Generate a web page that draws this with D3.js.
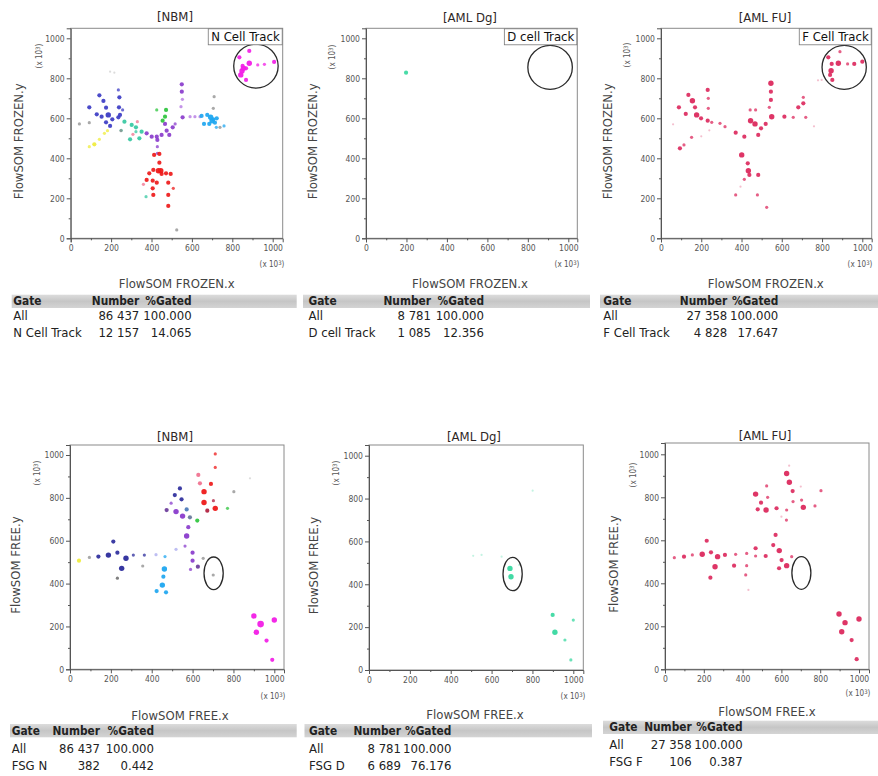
<!DOCTYPE html>
<html><head><meta charset="utf-8">
<script src="https://cdn.jsdelivr.net/npm/d3@7/dist/d3.min.js"></script>
<style>
html,body{margin:0;padding:0;background:#fff;}
svg{display:block;}
text{font-family:"DejaVu Sans Condensed","DejaVu Sans",sans-serif;}
</style></head>
<body>
<svg id="c" width="878" height="776"></svg>
<script>
// ---------------- DATA ----------------
const majorTicks = [0, 200, 400, 600, 800, 1000];
const minorTicks = [100, 300, 500, 700, 900];
const panelTitles = ["[NBM]", "[AML Dg]", "[AML FU]", "[NBM]", "[AML Dg]", "[AML FU]"];
const xAxisLabels = ["FlowSOM FROZEN.x", "FlowSOM FROZEN.x", "FlowSOM FROZEN.x", "FlowSOM FREE.x", "FlowSOM FREE.x", "FlowSOM FREE.x"];
const yAxisLabels = ["FlowSOM FROZEN.y", "FlowSOM FROZEN.y", "FlowSOM FROZEN.y", "FlowSOM FREE.y", "FlowSOM FREE.y", "FlowSOM FREE.y"];
const gateLabels = ["N Cell Track", "D cell Track", "F Cell Track", null, null, null];
// gate shapes: [centerX, centerY, radiusX, radiusY] in data units
const gateShapes = [[917, 861, 110, 110], [910, 855, 110, 110], [910, 855, 110, 110],
                    [703, 448, 47, 76], [703, 448, 47, 78], [703, 448, 49, 76]];
const tableHeader = ["Gate", "Number", "%Gated"];
const stats = [
  [["All", "86 437", "100.000"], ["N Cell Track", "12 157", "14.065"]],
  [["All", "8 781", "100.000"], ["D cell Track", "1 085", "12.356"]],
  [["All", "27 358", "100.000"], ["F Cell Track", "4 828", "17.647"]],
  [["All", "86 437", "100.000"], ["FSG N", "382", "0.442"]],
  [["All", "8 781", "100.000"], ["FSG D", "6 689", "76.176"]],
  [["All", "27 358", "100.000"], ["FSG F", "106", "0.387"]]
];
// points: [x, y, population, abundance level 0-4]
const nbmFrozen = [
  [835,905,"mag",2],[884,937,"mag",2],[884,875,"mag",3],[851,862,"mag",2],[848,837,"mag",3],[842,817,"mag",3],
  [868,792,"mag",2],[926,867,"mag",1],[959,870,"mag",1],[1007,882,"mag",2],[868,850,"mag",2],[855,850,"mag",3],
  [92,655,"blue",2],[142,715,"blue",2],[162,687,"blue",2],[175,653,"blue",2],[129,620,"blue",2],[153,608,"blue",2],
  [186,617,"blue",3],[175,580,"blue",2],[206,595,"blue",2],[195,562,"blue",2],[236,605,"blue",2],[239,655,"blue",2],
  [244,617,"blue",2],[236,742,"blue",1],[241,705,"blue",2],[257,642,"blue",1],
  [266,583,"teal",2],[302,567,"teal",2],[323,555,"teal",2],[294,495,"teal",2],[323,533,"teal",1],[340,500,"teal",2],
  [351,533,"teal",2],[373,208,"teal",1],[250,540,"teal",1],
  [92,458,"yellow",1],[117,470,"yellow",2],[142,495,"yellow",1],[167,525,"yellow",1],[182,538,"yellow",1],
  [43,572,"gray",1],[92,578,"gray",1],[195,833,"gray",0],[216,828,"gray",0],[249,538,"gray",1],[525,42,"gray",1],
  [706,650,"gray",1],[710,708,"gray",1],[739,555,"gray",1],
  [467,572,"purple",2],[475,538,"purple",2],[450,517,"purple",2],[488,517,"purple",2],[426,508,"purple",2],
  [401,508,"purple",2],[376,525,"purple",2],[429,492,"purple",2],[429,458,"purple",1],[429,425,"purple",1],
  [505,555,"purple",2],[517,572,"purple",1],
  [550,770,"purple",2],[550,733,"purple",2],[553,695,"violet",1],[546,658,"violet",1],[554,605,"purple",2],
  [591,608,"violet",1],[615,608,"violet",1],[640,608,"violet",1],
  [330,583,"pink",1],[308,520,"pink",1],[360,270,"pink",1],
  [426,642,"green",1],[472,642,"green",2],[467,608,"green",2],[455,588,"green",2],
  [648,612,"sky",2],[676,617,"sky",2],[693,605,"sky",3],[706,595,"sky",2],[714,578,"sky",2],[686,572,"sky",2],
  [723,600,"sky",2],[660,572,"sky",2],[721,555,"sky",1],[759,562,"sky",1],[700,588,"sky",3],
  [413,417,"red",2],[439,422,"red",2],[439,378,"red",2],[409,342,"red",2],[389,325,"red",2],[376,292,"red",2],
  [406,288,"red",2],[426,278,"red",2],[450,322,"red",2],[434,338,"red",3],[472,325,"red",2],[495,322,"red",2],
  [483,278,"red",2],[508,250,"red",1],[406,250,"red",2],[409,217,"red",2],[483,217,"red",2],[483,162,"red",2],
  [446,338,"red",3]
];
const amlDgFrozen = [
  [198,828,"aqua",2]
];
const amlFuFrozen = [
  [831,905,"crim",2],[889,933,"crim",1],[848,872,"crim",2],[881,875,"crim",3],[845,838,"crim",3],[840,817,"crim",2],
  [851,792,"crim",2],[927,872,"crim",1],[960,872,"crim",2],[1000,883,"crim",2],[798,792,"crim",0],
  [89,655,"crim",2],[136,717,"crim",2],[156,688,"crim",3],[169,655,"crim",2],[123,622,"crim",2],[177,617,"crim",3],
  [199,600,"crim",2],[232,588,"crim",2],[235,650,"crim",1],[232,742,"crim",2],[235,700,"crim",1],[252,580,"crim",1],
  [293,575,"crim",1],[318,558,"crim",1],[371,528,"crim",2],[414,508,"crim",2],[445,588,"crim",3],[467,572,"crim",3],
  [443,642,"crim",1],[470,642,"crim",1],[483,517,"crim",2],[497,550,"crim",2],[520,572,"crim",2],[546,775,"crim",3],
  [546,733,"crim",2],[546,692,"crim",2],[538,655,"crim",1],[550,608,"crim",3],[613,608,"crim",2],[657,605,"crim",1],
  [682,655,"crim",2],[707,675,"crim",2],[707,705,"crim",1],[719,605,"crim",1],
  [401,417,"crim",3],[431,375,"crim",2],[434,338,"crim",3],[414,295,"crim",1],[439,317,"crim",2],[483,317,"crim",2],
  [371,217,"crim",1],[479,217,"crim",1],[525,155,"crim",1],[94,450,"crim",2],[114,467,"crim",1],[152,505,"crim",1],
  [60,570,"crim",0],[240,540,"crim",0],[760,560,"crim",0],[780,790,"crim",0],[200,510,"crim",0],[395,258,"crim",0]
];
const nbmFree = [
  [44,507,"yellow",2],
  [95,522,"gray",1],[232,425,"dgray",1],[356,482,"gray",1],[652,518,"gray",1],[802,829,"gray",1],[881,891,"gray",0],
  [701,440,"gray",1],
  [139,526,"navy",2],[188,533,"navy",3],[232,544,"navy",2],[212,596,"navy",2],[274,518,"navy",3],[253,471,"navy",3],
  [310,533,"navy",1],[364,533,"navy",1],
  [421,535,"lav",1],[519,560,"lav",1],
  [465,526,"sky",1],[462,468,"sky",3],[457,432,"sky",2],[452,393,"sky",3],[424,365,"sky",2],[470,359,"sky",2],
  [563,575,"purple",1],[600,544,"purple",2],[600,507,"purple",2],[590,466,"purple",1],[626,479,"dpurple",2],
  [571,622,"purple",3],[579,663,"purple",2],[551,715,"purple",3],[519,736,"purple",3],[473,743,"dpurple",2],
  [513,813,"navy",2],[538,844,"navy",2],[546,793,"navy",2],[495,775,"purple",1],[587,709,"slate",2],[571,746,"steel",2],
  [628,907,"pink",2],[636,868,"pink",2],[656,829,"red",3],[690,865,"red",2],[656,778,"red",3],[672,740,"dred",2],
  [702,787,"dred",1],[711,942,"red",1],[711,1005,"red",1],[711,751,"red",3],
  [623,694,"green",2],[771,751,"green",1],
  [900,249,"mag",3],[933,211,"mag",4],[912,173,"mag",3],[1000,230,"mag",3],[962,134,"mag",2],[990,44,"mag",2]
];
const amlDgFree = [
  [690,474,"aqua",3],[695,435,"aqua",3],[510,533,"aqua",0],[551,537,"aqua",0],[649,529,"aqua",0],[801,837,"aqua",0],
  [899,257,"aqua",2],[910,176,"aqua",3],[959,140,"aqua",1],[1000,233,"aqua",1],[988,47,"aqua",1],[735,490,"aqua",0]
];
const amlFuFree = [
  [48,519,"crim",1],[98,524,"crim",2],[141,532,"crim",1],[192,535,"crim",3],[237,544,"crim",2],[215,598,"crim",2],
  [234,426,"crim",2],[258,477,"crim",3],[271,524,"crim",3],[309,532,"crim",2],[356,482,"crim",2],[364,535,"crim",1],
  [421,539,"crim",1],[421,482,"crim",1],[416,439,"crim",1],[430,369,"crim",0],[467,527,"crim",1],[467,563,"crim",2],
  [519,527,"crim",2],[558,578,"crim",2],[570,625,"crim",2],[589,552,"crim",3],[601,508,"crim",2],[588,470,"crim",2],
  [627,482,"crim",3],[653,524,"crim",1],[627,911,"crim",3],[641,870,"crim",3],[658,829,"crim",2],[660,780,"crim",1],
  [627,741,"crim",1],[626,694,"crim",1],[704,787,"crim",1],[713,753,"crim",3],[773,760,"crim",1],[804,831,"crim",1],
  [575,749,"crim",2],[521,741,"crim",3],[478,744,"crim",2],[495,775,"crim",2],[529,800,"crim",1],[467,815,"crim",3],
  [524,853,"crim",1],[897,257,"crim",3],[928,217,"crim",3],[911,175,"crim",3],[1000,234,"crim",3],[962,136,"crim",2],
  [988,47,"crim",2],[600,710,"crim",0],[700,850,"crim",0],[640,947,"crim",0]
];
const panelData = [nbmFrozen, amlDgFrozen, amlFuFrozen, nbmFree, amlDgFree, amlFuFree];

// ---------------- STYLE / LAYOUT ----------------
const colors = {
  mag:"#f21ee6", blue:"#3c3cc4", navy:"#2c2c9c", teal:"#36c8a2", yellow:"#efec3a", gray:"#8c8c8c", dgray:"#555",
  purple:"#8a3ccc", violet:"#b070e0", dpurple:"#6a3a9a", pink:"#f0708e", green:"#2cc43c", sky:"#1ea6f0",
  red:"#ee1a1a", dred:"#b01c3c", lav:"#a8a8ee", slate:"#667799", steel:"#4a78b8", aqua:"#38d8a0", crim:"#dc2a5e"
};
const radius = [1.1, 1.6, 2.1, 2.7, 3.3];
const alpha = [0.3, 0.75, 0.92, 0.95, 0.95];

// pixel geometry: x of data 0, x of data 1000, right edge, y of 0, y of 1000, top edge
const geo = [
  {x0:70.7, x1:272.7, xr:282.7, y0:238.3, y1:38.3, yt:28.3, tx:175, ty:21, ylx:18, ylu:[39,56], xlu:[272,264]},
  {x0:366, x1:568.3, xr:577.3, y0:238.3, y1:38.3, yt:28.3, tx:470, ty:21.5, ylx:312, ylu:[332,57], xlu:[567,264]},
  {x0:661, x1:862.3, xr:871.7, y0:238.3, y1:38.3, yt:28.3, tx:765, ty:21.5, ylx:607, ylu:[627,55], xlu:[860,264]},
  {x0:70, x1:274.3, xr:284, y0:669.3, y1:455, yt:445, tx:175, ty:440.5, ylx:15, ylu:[37,473], xlu:[273,696]},
  {x0:369, x1:573.3, xr:583.3, y0:670, y1:455.7, yt:445, tx:474, ty:440.5, ylx:313, ylu:[336,473], xlu:[573,696]},
  {x0:665, x1:859, xr:869, y0:669.3, y1:454.3, yt:443, tx:765, ty:439.5, ylx:613, ylu:[633,475], xlu:[858,693]}
];
const tgeo = [
  {lx:176.7, ly:283.7, bx0:11.7, bx1:296.7, by0:294.7, by1:308, gx:13.3, c1:139.3, c2:191.7, rows:[301.3,315.8,332.3]},
  {lx:470, ly:283.7, bx0:303, bx1:590, by0:294.7, by1:308, gx:308.5, c1:431, c2:484, rows:[301.3,315.8,332.3]},
  {lx:765.8, ly:283.7, bx0:600, bx1:878, by0:294.7, by1:308, gx:603.3, c1:727.3, c2:778.3, rows:[301.3,315.8,332.3]},
  {lx:180, ly:715, bx0:10, bx1:296.7, by0:724, by1:737.3, gx:11.7, c1:100, c2:154, rows:[730.7,748.3,765]},
  {lx:475, ly:714, bx0:304.5, bx1:592, by0:724, by1:737.3, gx:309, c1:401, c2:451.4, rows:[730.7,748.3,765]},
  {lx:767, ly:711.7, bx0:603, bx1:878, by0:720.7, by1:734, gx:609.3, c1:691.7, c2:742.7, rows:[727.3,744,761]}
];

const svg = d3.select("#c");
const defs = svg.append("defs");
const grad = defs.append("linearGradient").attr("id","bar").attr("x1",0).attr("x2",0).attr("y1",0).attr("y2",1);
grad.append("stop").attr("offset","0%").attr("stop-color","#dcdcdc");
grad.append("stop").attr("offset","50%").attr("stop-color","#c6c6c6");
grad.append("stop").attr("offset","100%").attr("stop-color","#d4d4d4");

panelData.forEach((data, i) => {
  const g = geo[i];
  const xs0 = d3.scaleLinear().domain([0,1000]).range([g.x0, g.x1]);
  const ys0 = d3.scaleLinear().domain([0,1000]).range([g.y0, g.y1]);
  const x = d3.scaleLinear().domain([0, xs0.invert(g.xr)]).range([g.x0, g.xr]);
  const y = d3.scaleLinear().domain([0, ys0.invert(g.yt)]).range([g.y0, g.yt]);
  const p = svg.append("g");

  // frame
  p.append("rect").attr("x", g.x0).attr("y", g.yt).attr("width", g.xr - g.x0).attr("height", g.y0 - g.yt)
    .attr("fill", "#fff").attr("stroke", "#8a8a8a").attr("stroke-width", 1);

  // points
  p.append("g").selectAll("circle").data(data).join("circle")
    .attr("cx", d => x(d[0])).attr("cy", d => y(d[1]))
    .attr("r", d => radius[d[3]])
    .attr("fill", d => colors[d[2]])
    .attr("fill-opacity", d => alpha[d[3]]);

  // gate shape
  const gs = gateShapes[i];
  p.append("ellipse").attr("cx", x(gs[0])).attr("cy", y(gs[1]))
    .attr("rx", Math.abs(x(gs[0] + gs[2]) - x(gs[0]))).attr("ry", Math.abs(y(gs[1]) - y(gs[1] + gs[3])))
    .attr("fill", "none").attr("stroke", "#2a2a2a").attr("stroke-width", 1.3);

  // gate label box
  if (gateLabels[i]) {
    const t = p.append("text").attr("x", g.xr - 3).attr("y", g.yt + 13)
      .attr("text-anchor", "end").attr("font-size", 13).attr("fill", "#111").text(gateLabels[i]);
    const bb = t.node().getBBox();
    p.insert("rect", "text").attr("x", bb.x - 3).attr("y", g.yt + 0.5).attr("width", g.xr - bb.x + 2.5)
      .attr("height", 16).attr("fill", "#fff").attr("stroke", "#777").attr("stroke-width", 0.8);
  }

  // axes
  p.append("g").attr("transform", `translate(0,${g.y0})`)
    .call(d3.axisBottom(x).tickValues(majorTicks).tickSize(4).tickPadding(3).tickFormat(d3.format("d")));
  p.append("g").attr("transform", `translate(0,${g.y0})`)
    .call(d3.axisBottom(x).tickValues(minorTicks).tickSize(2).tickFormat(""))
    .call(s => s.select(".domain").remove());
  p.append("g").attr("transform", `translate(${g.x0},0)`)
    .call(d3.axisLeft(y).tickValues(majorTicks).tickSize(4).tickPadding(2).tickFormat(d3.format("d")));
  p.append("g").attr("transform", `translate(${g.x0},0)`)
    .call(d3.axisLeft(y).tickValues(minorTicks).tickSize(2).tickFormat(""))
    .call(s => s.select(".domain").remove());
  p.selectAll(".domain").attr("stroke", "#555");
  p.selectAll(".tick line").attr("stroke", "#555");
  p.selectAll(".tick text").attr("font-size", 8.5).attr("fill", "#555")
    .attr("font-family", '"DejaVu Sans Condensed","DejaVu Sans",sans-serif');

  // title
  p.append("text").attr("x", g.tx).attr("y", g.ty).attr("text-anchor", "middle")
    .attr("font-size", 13).attr("fill", "#2e2626").text(panelTitles[i]);

  // y label
  p.append("text").attr("transform", `translate(${g.ylx},${(g.y0 + g.yt) / 2 + 8}) rotate(-90)`)
    .attr("text-anchor", "middle").attr("dy", "0.35em").attr("font-size", 13).attr("fill", "#444")
    .text(yAxisLabels[i]);
  // unit labels
  const uy = p.append("text").attr("transform", `translate(${g.ylu[0]},${g.ylu[1]}) rotate(-90)`)
    .attr("text-anchor", "middle").attr("dy", "0.35em").attr("font-size", 8).attr("fill", "#555");
  uy.append("tspan").text("(x 10");
  uy.append("tspan").attr("font-size", 6).attr("dy", "-0.3em").text("3");
  uy.append("tspan").attr("dy", "0.3em").text(")");
  const ux = p.append("text").attr("x", g.xlu[0]).attr("y", g.xlu[1]).attr("text-anchor", "middle")
    .attr("dy", "0.35em").attr("font-size", 8).attr("fill", "#555");
  ux.append("tspan").text("(x 10");
  ux.append("tspan").attr("font-size", 6).attr("dy", "-0.3em").text("3");
  ux.append("tspan").attr("dy", "0.3em").text(")");

  // table
  const t = tgeo[i];
  const tb = svg.append("g");
  tb.append("text").attr("x", t.lx).attr("y", t.ly).attr("dy", "0.35em").attr("text-anchor", "middle")
    .attr("font-size", 13).attr("fill", "#444").text(xAxisLabels[i]);
  tb.append("rect").attr("x", t.bx0).attr("y", t.by0).attr("width", t.bx1 - t.bx0).attr("height", t.by1 - t.by0)
    .attr("fill", "url(#bar)");
  const rows = [tableHeader].concat(stats[i]);
  rows.forEach((r, k) => {
    const bold = k === 0;
    const fs = bold ? 11.8 : 13;
    const fw = bold ? "bold" : "normal";
    const cy = t.rows[k];
    tb.append("text").attr("x", t.gx).attr("y", cy).attr("dy", "0.35em").attr("font-size", fs)
      .attr("font-weight", fw).attr("fill", "#222").text(r[0]);
    tb.append("text").attr("x", t.c1).attr("y", cy).attr("dy", "0.35em").attr("font-size", fs)
      .attr("font-weight", fw).attr("fill", "#222").attr("text-anchor", "end").text(r[1]);
    tb.append("text").attr("x", t.c2).attr("y", cy).attr("dy", "0.35em").attr("font-size", fs)
      .attr("font-weight", fw).attr("fill", "#222").attr("text-anchor", "end").text(r[2]);
  });
});
</script>
</body></html>
